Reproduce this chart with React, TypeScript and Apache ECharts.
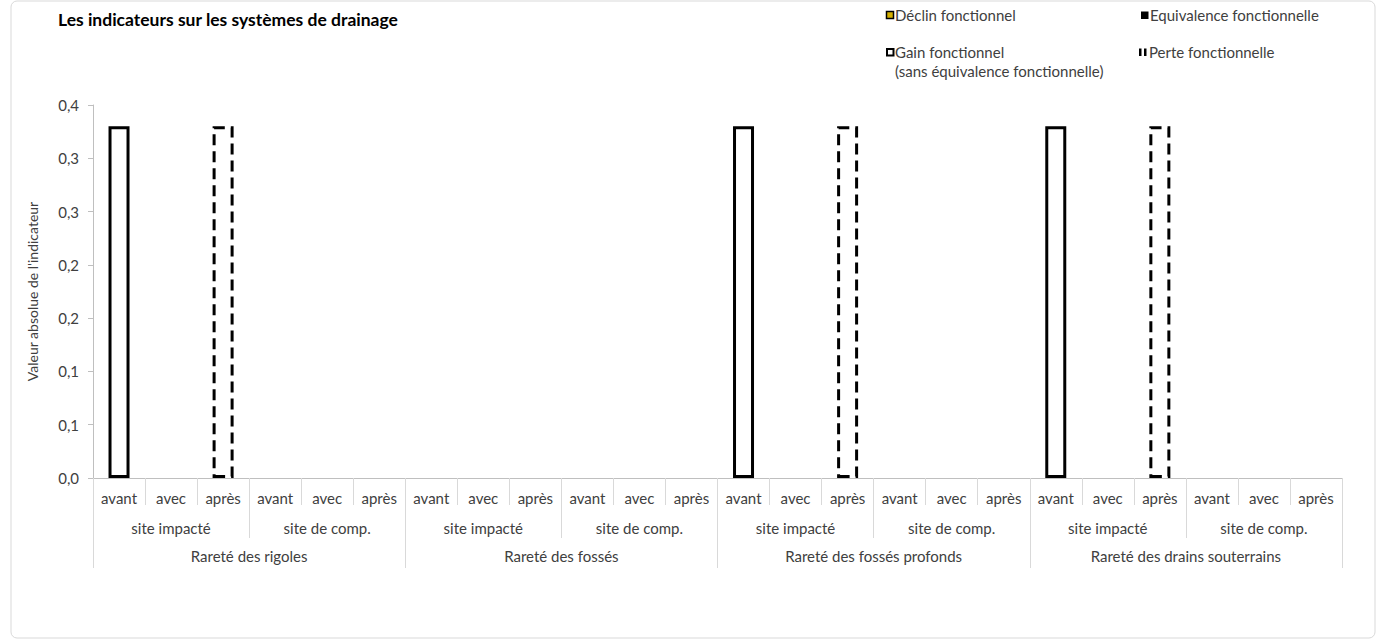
import React, { useEffect, useRef } from "react";
import * as echarts from "echarts";

const chartTitle = "Les indicateurs sur les systèmes de drainage";
const yAxisName = "Valeur absolue de l'indicateur";

const phases = ["avant", "avec", "après"];
const sites = ["site impacté", "site de comp."];
const indicators = [
  "Rareté des rigoles",
  "Rareté des fossés",
  "Rareté des fossés profonds",
  "Rareté des drains souterrains",
];

const yTickLabels = ["0,0", "0,1", "0,1", "0,2", "0,2", "0,3", "0,3", "0,4"];
const yMin = 0;
const yMax = 0.35;
const yStep = 0.05;

// 24 categories: indicator x site x phase
const valeurAvant = [
  0.33, null, null, null, null, null,
  null, null, null, null, null, null,
  0.33, null, null, null, null, null,
  0.33, null, null, null, null, null,
];
const perteFonctionnelle = [
  null, null, 0.33, null, null, null,
  null, null, null, null, null, null,
  null, null, 0.33, null, null, null,
  null, null, 0.33, null, null, null,
];
const declinFonctionnel = [
  null, null, null, null, null, null,
  null, null, null, null, null, null,
  null, null, null, null, null, null,
  null, null, null, null, null, null,
];
const equivalenceFonctionnelle = [
  null, null, null, null, null, null,
  null, null, null, null, null, null,
  null, null, null, null, null, null,
  null, null, null, null, null, null,
];
const gainFonctionnel = [
  null, null, null, null, null, null,
  null, null, null, null, null, null,
  null, null, null, null, null, null,
  null, null, null, null, null, null,
];

const legendNames = [
  "Déclin fonctionnel",
  "Equivalence fonctionnelle",
  "Gain fonctionnel",
  "(sans équivalence fonctionnelle)",
  "Perte fonctionnelle",
];

export default function App() {
  const ref = useRef<HTMLDivElement>(null);

  useEffect(() => {
    if (!ref.current) return;
    const chart = echarts.init(ref.current, null, { renderer: "svg" });

    const font = "Lato";
    const fs = 15;
    const textColor = "#404040";
    const tickColor = "#d9d9d9";
    const axisColor = "#bfbfbf";

    const level1 = indicators.flatMap(() => sites.flatMap(() => phases));
    const level2 = indicators.flatMap(() => sites);

    const catAxis = (data: string[], margin: number, tickLen: number, showLine: boolean) => ({
      type: "category",
      data,
      gridIndex: 0,
      position: "bottom",
      offset: 0,
      boundaryGap: true,
      axisLine: { show: showLine, lineStyle: { color: axisColor, width: 1 } },
      axisTick: { show: true, interval: 0, length: tickLen, lineStyle: { color: tickColor } },
      axisLabel: {
        interval: 0,
        margin,
        color: textColor,
        fontFamily: font,
        fontSize: fs,
      },
      splitLine: { show: false },
    });

    const bar = (name: string, data: (number | null)[], itemStyle: any) => ({
      name,
      type: "bar",
      xAxisIndex: 0,
      yAxisIndex: 0,
      barWidth: 21,
      barGap: "-100%",
      data,
      itemStyle,
    });

    const textEl = (text: string, x: number, y: number) => ({
      type: "text",
      x,
      y,
      style: {
        text,
        fontFamily: font,
        fontSize: fs,
        fill: textColor,
        verticalAlign: "middle",
        align: "left",
      },
    });

    chart.setOption({
      animation: false,
      backgroundColor: "#ffffff",
      title: {
        text: chartTitle,
        left: 53,
        top: 5,
        textStyle: { fontFamily: font, fontSize: 17.5, fontWeight: "bold", color: "#000000" },
      },
      grid: { left: 93, right: 37, top: 105, bottom: 164, containLabel: false },
      xAxis: [
        catAxis(level1, 12, 27, true),
        catAxis(level2, 42, 60, false),
        catAxis(indicators, 70, 90, false),
      ],
      yAxis: {
        type: "value",
        min: yMin,
        max: yMax,
        interval: yStep,
        name: yAxisName,
        nameLocation: "middle",
        nameGap: 54,
        nameRotate: 90,
        nameTextStyle: { fontFamily: font, fontSize: 14, color: textColor },
        axisLine: { show: true, lineStyle: { color: axisColor } },
        axisTick: { show: true, length: 5, lineStyle: { color: axisColor } },
        axisLabel: {
          margin: 14,
          color: textColor,
          fontFamily: font,
          fontSize: fs,
          formatter: (v: number) => yTickLabels[Math.round((v - yMin) / yStep)] ?? "",
        },
        splitLine: { show: false },
      },
      series: [
        bar("avant", valeurAvant, { color: "#ffffff", borderColor: "#000000", borderWidth: 3 }),
        bar(legendNames[0], declinFonctionnel, { color: "#d4b000", borderColor: "#000000", borderWidth: 3 }),
        bar(legendNames[1], equivalenceFonctionnelle, { color: "#000000", borderColor: "#000000", borderWidth: 3 }),
        bar(legendNames[2] + " " + legendNames[3], gainFonctionnel, { color: "#ffffff", borderColor: "#000000", borderWidth: 3 }),
        bar(legendNames[4], perteFonctionnelle, {
          color: "#ffffff",
          borderColor: "#000000",
          borderWidth: 3,
          borderType: [11, 6],
        }),
      ],
      graphic: [
        {
          type: "rect",
          z: -10,
          shape: { x: 11, y: 1, width: 1364, height: 637, r: 6 },
          style: { fill: "none", stroke: "#d9d9d9", lineWidth: 1 },
        },
        // Déclin fonctionnel
        {
          type: "rect",
          shape: { x: 886.5, y: 11.5, width: 7, height: 7 },
          style: { fill: "#d4b000", stroke: "#000000", lineWidth: 1.5 },
        },
        textEl(legendNames[0], 895, 15),
        // Equivalence fonctionnelle
        {
          type: "rect",
          shape: { x: 1141, y: 11.5, width: 7.5, height: 7.5 },
          style: { fill: "#000000" },
        },
        textEl(legendNames[1], 1150, 15),
        // Gain fonctionnel
        {
          type: "rect",
          shape: { x: 887, y: 49, width: 6.5, height: 6.5 },
          style: { fill: "#ffffff", stroke: "#000000", lineWidth: 2 },
        },
        textEl(legendNames[2], 895, 52),
        textEl(legendNames[3], 895, 71),
        // Perte fonctionnelle
        {
          type: "rect",
          shape: { x: 1139, y: 48.5, width: 2.5, height: 7.5 },
          style: { fill: "#000000" },
        },
        {
          type: "rect",
          shape: { x: 1144, y: 48.5, width: 2.5, height: 7.5 },
          style: { fill: "#000000" },
        },
        textEl(legendNames[4], 1149, 52),
      ],
    });

    return () => chart.dispose();
  }, []);

  return (
    <div
      ref={ref}
      style={{ position: "fixed", left: 0, top: 0, width: 1379, height: 642, background: "#fff" }}
    />
  );
}
